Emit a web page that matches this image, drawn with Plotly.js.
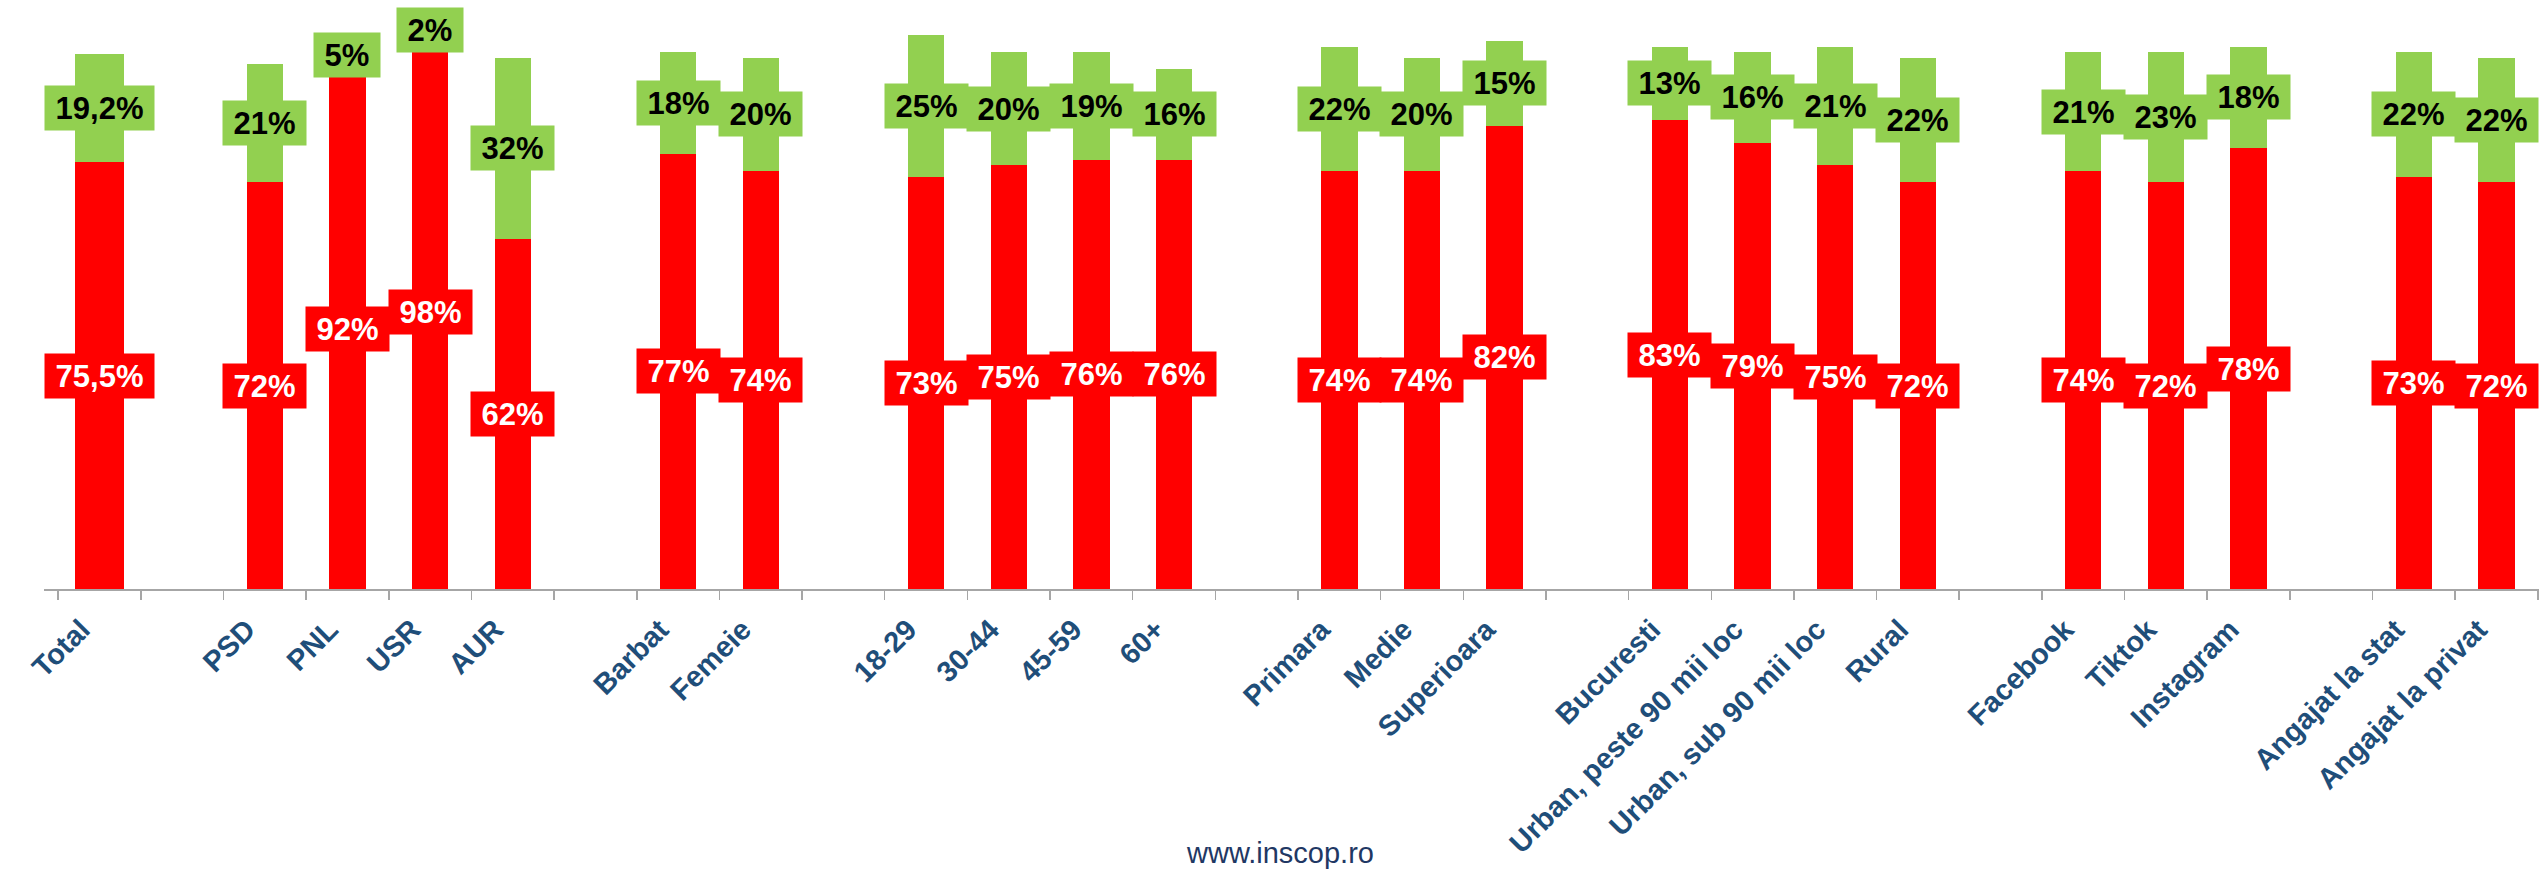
<!DOCTYPE html>
<html>
<head>
<meta charset="utf-8">
<script src="https://cdn.plot.ly/plotly-3.0.1.min.js"></script>
<style>
  html, body { margin: 0; padding: 0; background: #ffffff; }
  #chart { width: 2539px; height: 873px; }
</style>
</head>
<body>
<div id="chart"></div>
<script>
// Categories (blank entries are the spacer slots between groups)
const categories = [
  'Total', '\u00a0',
  'PSD', 'PNL', 'USR', 'AUR', '\u00a0\u00a0',
  'Barbat', 'Femeie', '\u00a0\u00a0\u00a0',
  '18-29', '30-44', '45-59', '60+', '\u00a0\u00a0\u00a0\u00a0',
  'Primara', 'Medie', 'Superioara', '\u00a0\u00a0\u00a0\u00a0\u00a0',
  'Bucuresti', 'Urban, peste 90 mii loc', 'Urban, sub 90 mii loc', 'Rural', '\u00a0\u00a0\u00a0\u00a0\u00a0\u00a0',
  'Facebook', 'Tiktok', 'Instagram', '\u00a0\u00a0\u00a0\u00a0\u00a0\u00a0\u00a0',
  'Angajat la stat', 'Angajat la privat'
];

// Red series (bottom segment)
const redValues = [
  75.5, null,
  72, 92, 98, 62, null,
  77, 74, null,
  73, 75, 76, 76, null,
  74, 74, 82, null,
  83, 79, 75, 72, null,
  74, 72, 78, null,
  73, 72
];

// Green series (top segment)
const greenValues = [
  19.2, null,
  21, 5, 2, 32, null,
  18, 20, null,
  25, 20, 19, 16, null,
  22, 20, 15, null,
  13, 16, 21, 22, null,
  21, 23, 18, null,
  22, 22
];

const RED = '#FF0000';
const GREEN = '#92D050';
const FONT = '"Liberation Sans", Arial, sans-serif';

const fmt = v => (Number.isInteger(v) ? String(v) : v.toFixed(1).replace('.', ',')) + '%';
const widths = categories.map(c => (c === 'Total' ? 0.6 : 0.44));

const traces = [
  {
    type: 'bar', x: categories, y: redValues, width: widths,
    marker: { color: RED, line: { width: 0 } },
    hoverinfo: 'skip', showlegend: false
  },
  {
    type: 'bar', x: categories, y: greenValues, width: widths,
    marker: { color: GREEN, line: { width: 0 } },
    hoverinfo: 'skip', showlegend: false
  }
];

const annotations = [];
categories.forEach((c, i) => {
  const r = redValues[i], g = greenValues[i];
  if (r != null) {
    annotations.push({
      x: c, y: r / 2, xref: 'x', yref: 'y', showarrow: false,
      text: '<b>\u00a0' + fmt(r) + '\u00a0</b>',
      font: { family: FONT, size: 31, color: '#FFFFFF' },
      bgcolor: RED, borderpad: 2, height: 40, valign: 'middle'
    });
  }
  if (g != null) {
    annotations.push({
      x: c, y: r + g / 2, xref: 'x', yref: 'y', showarrow: false,
      text: '<b>\u00a0' + fmt(g) + '\u00a0</b>',
      font: { family: FONT, size: 31, color: '#000000' },
      bgcolor: GREEN, borderpad: 2, height: 40, valign: 'middle'
    });
  }
});

annotations.push({
  text: 'www.inscop.ro', xref: 'paper', yref: 'paper',
  x: 0.4954, y: -0.467, xanchor: 'center', yanchor: 'middle', showarrow: false,
  font: { family: FONT, size: 29, color: '#1F3864' }
});

const layout = {
  width: 2539, height: 873,
  margin: { l: 44, r: 0, t: 24, b: 284, pad: 0 },
  paper_bgcolor: '#FFFFFF', plot_bgcolor: '#FFFFFF',
  barmode: 'stack',
  showlegend: false,
  hovermode: false,
  xaxis: {
    type: 'category',
    categoryorder: 'array', categoryarray: categories,
    showline: true, linecolor: '#A6A6A6', linewidth: 2,
    ticks: 'outside', ticklen: 9, tickwidth: 1.5, tickcolor: '#A6A6A6',
    tickson: 'boundaries',
    tickangle: -45,
    ticklabelstandoff: 10,
    ticklabelshift: -18,
    tickfont: { family: FONT, size: 29, color: '#1F4E79', weight: 'bold' },
    showgrid: false, zeroline: false, fixedrange: true
  },
  yaxis: {
    range: [0, 100], visible: false, showgrid: false, zeroline: false, fixedrange: true
  },
  annotations: annotations
};

Plotly.newPlot('chart', traces, layout, { displayModeBar: false, staticPlot: true });
</script>
</body>
</html>
